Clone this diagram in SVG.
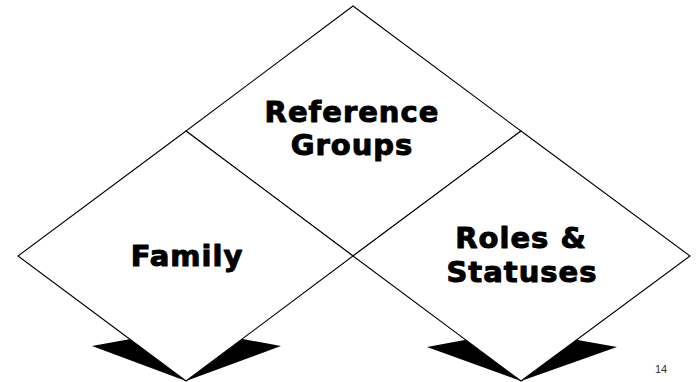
<svg xmlns="http://www.w3.org/2000/svg" width="696" height="382" viewBox="0 0 696 382">
  <style>
    .wing { fill: #000; stroke: none; }
    .diamond { fill: #fff; stroke: #000; stroke-width: 1.1; stroke-linejoin: miter; }
    .label { font-family: "DejaVu Sans", "Liberation Sans", sans-serif; font-weight: bold; font-size: 29px; letter-spacing: 1px; fill: #000; stroke: #000; stroke-width: 1; stroke-linejoin: round; text-anchor: middle; }
    .page { font-family: "Liberation Sans", Arial, sans-serif; font-size: 11px; fill: #333; text-anchor: middle; }
  </style>
  <rect width="696" height="382" fill="#fff"/>

  <!-- dark wings beneath the lower diamonds -->
  <g id="shadows">
    <polygon class="wing" points="92,346 136,338 186,381"/>
    <polygon class="wing" points="281,346 237,338 186,381"/>
    <polygon class="wing" points="427,347 470,339 521,381"/>
    <polygon class="wing" points="617,347 572,339 521,381"/>
  </g>

  <g id="node-reference-groups">
    <polygon class="diamond" points="353,6 521,131 353,256 186,131"/>
    <text class="label" x="352" y="122">Reference</text>
    <text class="label" x="352" y="155">Groups</text>
  </g>

  <g id="node-family">
    <polygon class="diamond" points="186,131 353,256 186,381 18,256"/>
    <text class="label" x="187" y="266">Family</text>
  </g>

  <g id="node-roles-statuses">
    <polygon class="diamond" points="521,131 690,256 521,381 353,256"/>
    <text class="label" x="521" y="248">Roles &amp;</text>
    <text class="label" x="522" y="282">Statuses</text>
  </g>

  <g id="connectors"></g>

  <text class="page" x="661" y="373">14</text>
</svg>
